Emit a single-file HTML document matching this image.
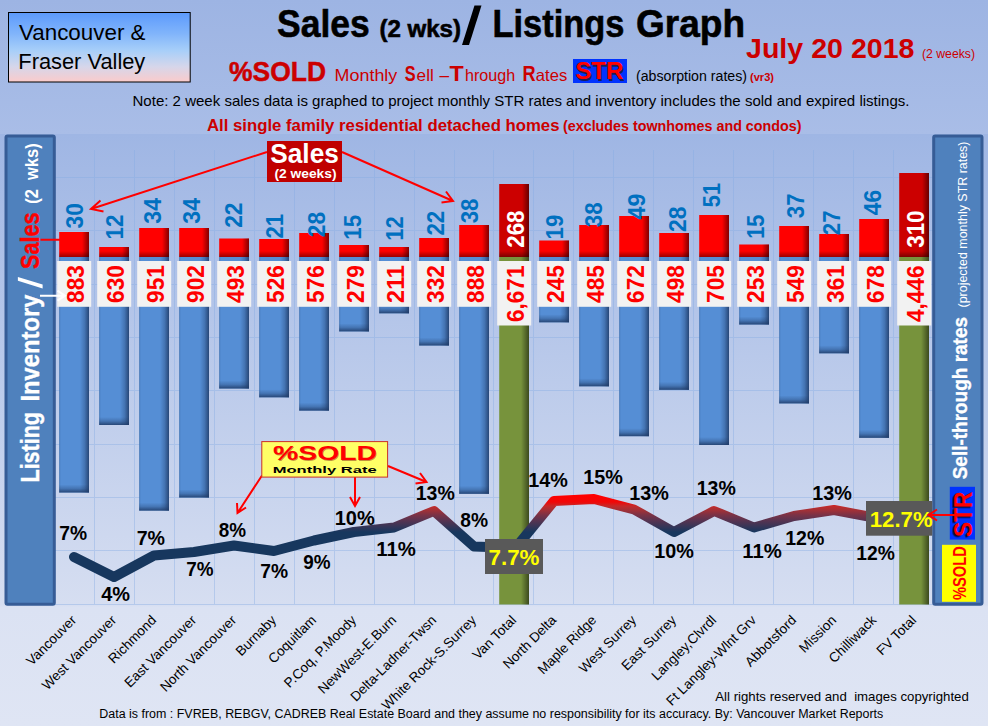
<!DOCTYPE html>
<html><head><meta charset="utf-8"><title>Sales / Listings Graph</title>
<style>
html,body{margin:0;padding:0;background:#dde4f3;}
body{width:988px;height:726px;overflow:hidden;font-family:"Liberation Sans",sans-serif;}
svg{display:block;font-family:"Liberation Sans",sans-serif;}
</style></head><body>
<svg width="988" height="726" viewBox="0 0 988 726">
<defs>
<linearGradient id="bgT" x1="0" y1="0" x2="0" y2="1"><stop offset="0" stop-color="#9db4e3"/><stop offset="1" stop-color="#a9bde7"/></linearGradient>
<linearGradient id="bg" x1="0" y1="0" x2="0" y2="1"><stop offset="0" stop-color="#9fb6e4"/><stop offset="0.795" stop-color="#d6def1"/><stop offset="0.8" stop-color="#dbe2f3"/><stop offset="1" stop-color="#dfe5f4"/></linearGradient>
<linearGradient id="vbox" x1="0" y1="0" x2="0" y2="1"><stop offset="0" stop-color="#5c9afc"/><stop offset="0.3" stop-color="#80b4fb"/><stop offset="0.55" stop-color="#a8cff9"/><stop offset="0.78" stop-color="#d6d6ea"/><stop offset="1" stop-color="#fbcbcb"/></linearGradient>
<linearGradient id="shR" x1="0" y1="0" x2="1" y2="0"><stop offset="0" stop-color="#000" stop-opacity="0"/><stop offset="1" stop-color="#000" stop-opacity="0.5"/></linearGradient>
<linearGradient id="bR" x1="0" y1="0" x2="1" y2="0"><stop offset="0" stop-color="#1f3a66" stop-opacity="0"/><stop offset="0.5" stop-color="#1f3a66" stop-opacity="0.3"/><stop offset="1" stop-color="#1f3a66" stop-opacity="0.85"/></linearGradient>
<linearGradient id="bB" x1="0" y1="0" x2="0" y2="1"><stop offset="0" stop-color="#1f3a66" stop-opacity="0"/><stop offset="0.5" stop-color="#1f3a66" stop-opacity="0.3"/><stop offset="1" stop-color="#1f3a66" stop-opacity="0.85"/></linearGradient>
<linearGradient id="shB" x1="0" y1="0" x2="0" y2="1"><stop offset="0" stop-color="#000" stop-opacity="0"/><stop offset="1" stop-color="#000" stop-opacity="0.5"/></linearGradient>
<linearGradient id="ln" gradientUnits="userSpaceOnUse" x1="0" y1="496" x2="0" y2="532"><stop offset="0" stop-color="#ff0000"/><stop offset="0.17" stop-color="#f00808"/><stop offset="0.28" stop-color="#c42a2a"/><stop offset="0.39" stop-color="#a43036"/><stop offset="0.53" stop-color="#7a3246"/><stop offset="0.67" stop-color="#5a3350"/><stop offset="1" stop-color="#17375e"/></linearGradient>
<filter id="ts" x="-20%" y="-20%" width="140%" height="140%"><feGaussianBlur stdDeviation="0.7"/></filter>
</defs>
<rect width="988" height="134" fill="url(#bgT)"/>
<rect y="134" width="988" height="592" fill="url(#bg)"/>

<g stroke="#86ace4" stroke-width="1" opacity="0.4" shape-rendering="crispEdges">
<line x1="94.5" y1="150" x2="94.5" y2="604"/>
<line x1="134.5" y1="150" x2="134.5" y2="604"/>
<line x1="174.5" y1="150" x2="174.5" y2="604"/>
<line x1="214.5" y1="150" x2="214.5" y2="604"/>
<line x1="254.5" y1="150" x2="254.5" y2="604"/>
<line x1="294.5" y1="150" x2="294.5" y2="604"/>
<line x1="334.5" y1="150" x2="334.5" y2="604"/>
<line x1="374.5" y1="150" x2="374.5" y2="604"/>
<line x1="414.5" y1="150" x2="414.5" y2="604"/>
<line x1="454.5" y1="150" x2="454.5" y2="604"/>
<line x1="493.5" y1="150" x2="493.5" y2="604"/>
<line x1="533.5" y1="150" x2="533.5" y2="604"/>
<line x1="573.5" y1="150" x2="573.5" y2="604"/>
<line x1="613.5" y1="150" x2="613.5" y2="604"/>
<line x1="653.5" y1="150" x2="653.5" y2="604"/>
<line x1="693.5" y1="150" x2="693.5" y2="604"/>
<line x1="733.5" y1="150" x2="733.5" y2="604"/>
<line x1="773.5" y1="150" x2="773.5" y2="604"/>
<line x1="813.5" y1="150" x2="813.5" y2="604"/>
<line x1="853.5" y1="150" x2="853.5" y2="604"/>
<line x1="893.5" y1="150" x2="893.5" y2="604"/>
<line x1="55" y1="177.5" x2="933" y2="177.5"/>
<line x1="55" y1="230.5" x2="933" y2="230.5"/>
<line x1="55" y1="284.5" x2="933" y2="284.5"/>
<line x1="55" y1="337.5" x2="933" y2="337.5"/>
<line x1="55" y1="390.5" x2="933" y2="390.5"/>
<line x1="55" y1="444.5" x2="933" y2="444.5"/>
<line x1="55" y1="497.5" x2="933" y2="497.5"/>
<line x1="55" y1="550.5" x2="933" y2="550.5"/>
<line x1="55" y1="604.5" x2="933" y2="604.5" />
</g>
<rect x="59.2" y="257" width="29.8" height="235.5" fill="#558ed5"/>
<rect x="80.0" y="257" width="9" height="235.5" fill="url(#bR)"/>
<rect x="59.2" y="484.5" width="29.8" height="8" fill="url(#bB)"/>
<rect x="59.2" y="257" width="1" height="235.5" fill="#1f3a66" opacity="0.25"/>
<rect x="59.2" y="232" width="29.8" height="25" fill="#ff0000"/>
<rect x="82.0" y="232" width="7" height="25" fill="url(#shR)"/>
<rect x="59.2" y="251" width="29.8" height="6" fill="url(#shB)" opacity="0.8"/>
<rect x="99.2" y="257" width="29.8" height="168.0" fill="#558ed5"/>
<rect x="120.0" y="257" width="9" height="168.0" fill="url(#bR)"/>
<rect x="99.2" y="417.0" width="29.8" height="8" fill="url(#bB)"/>
<rect x="99.2" y="257" width="1" height="168.0" fill="#1f3a66" opacity="0.25"/>
<rect x="99.2" y="247" width="29.8" height="10" fill="#ff0000"/>
<rect x="122.0" y="247" width="7" height="10" fill="url(#shR)"/>
<rect x="99.2" y="251" width="29.8" height="6" fill="url(#shB)" opacity="0.8"/>
<rect x="139.2" y="257" width="29.8" height="253.6" fill="#558ed5"/>
<rect x="160.0" y="257" width="9" height="253.6" fill="url(#bR)"/>
<rect x="139.2" y="502.6" width="29.8" height="8" fill="url(#bB)"/>
<rect x="139.2" y="257" width="1" height="253.6" fill="#1f3a66" opacity="0.25"/>
<rect x="139.2" y="228" width="29.8" height="29" fill="#ff0000"/>
<rect x="162.0" y="228" width="7" height="29" fill="url(#shR)"/>
<rect x="139.2" y="251" width="29.8" height="6" fill="url(#shB)" opacity="0.8"/>
<rect x="179.2" y="257" width="29.8" height="240.5" fill="#558ed5"/>
<rect x="200.0" y="257" width="9" height="240.5" fill="url(#bR)"/>
<rect x="179.2" y="489.5" width="29.8" height="8" fill="url(#bB)"/>
<rect x="179.2" y="257" width="1" height="240.5" fill="#1f3a66" opacity="0.25"/>
<rect x="179.2" y="228" width="29.8" height="29" fill="#ff0000"/>
<rect x="202.0" y="228" width="7" height="29" fill="url(#shR)"/>
<rect x="179.2" y="251" width="29.8" height="6" fill="url(#shB)" opacity="0.8"/>
<rect x="219.2" y="257" width="29.8" height="131.5" fill="#558ed5"/>
<rect x="240.0" y="257" width="9" height="131.5" fill="url(#bR)"/>
<rect x="219.2" y="380.5" width="29.8" height="8" fill="url(#bB)"/>
<rect x="219.2" y="257" width="1" height="131.5" fill="#1f3a66" opacity="0.25"/>
<rect x="219.2" y="238.5" width="29.8" height="18.5" fill="#ff0000"/>
<rect x="242.0" y="238.5" width="7" height="18.5" fill="url(#shR)"/>
<rect x="219.2" y="251" width="29.8" height="6" fill="url(#shB)" opacity="0.8"/>
<rect x="259.2" y="257" width="29.8" height="140.3" fill="#558ed5"/>
<rect x="280.0" y="257" width="9" height="140.3" fill="url(#bR)"/>
<rect x="259.2" y="389.3" width="29.8" height="8" fill="url(#bB)"/>
<rect x="259.2" y="257" width="1" height="140.3" fill="#1f3a66" opacity="0.25"/>
<rect x="259.2" y="239" width="29.8" height="18" fill="#ff0000"/>
<rect x="282.0" y="239" width="7" height="18" fill="url(#shR)"/>
<rect x="259.2" y="251" width="29.8" height="6" fill="url(#shB)" opacity="0.8"/>
<rect x="299.2" y="257" width="29.8" height="153.6" fill="#558ed5"/>
<rect x="320.0" y="257" width="9" height="153.6" fill="url(#bR)"/>
<rect x="299.2" y="402.6" width="29.8" height="8" fill="url(#bB)"/>
<rect x="299.2" y="257" width="1" height="153.6" fill="#1f3a66" opacity="0.25"/>
<rect x="299.2" y="233" width="29.8" height="24" fill="#ff0000"/>
<rect x="322.0" y="233" width="7" height="24" fill="url(#shR)"/>
<rect x="299.2" y="251" width="29.8" height="6" fill="url(#shB)" opacity="0.8"/>
<rect x="339.2" y="257" width="29.8" height="74.4" fill="#558ed5"/>
<rect x="360.0" y="257" width="9" height="74.4" fill="url(#bR)"/>
<rect x="339.2" y="323.4" width="29.8" height="8" fill="url(#bB)"/>
<rect x="339.2" y="257" width="1" height="74.4" fill="#1f3a66" opacity="0.25"/>
<rect x="339.2" y="245" width="29.8" height="12" fill="#ff0000"/>
<rect x="362.0" y="245" width="7" height="12" fill="url(#shR)"/>
<rect x="339.2" y="251" width="29.8" height="6" fill="url(#shB)" opacity="0.8"/>
<rect x="379.2" y="257" width="29.8" height="56.3" fill="#558ed5"/>
<rect x="400.0" y="257" width="9" height="56.3" fill="url(#bR)"/>
<rect x="379.2" y="305.3" width="29.8" height="8" fill="url(#bB)"/>
<rect x="379.2" y="257" width="1" height="56.3" fill="#1f3a66" opacity="0.25"/>
<rect x="379.2" y="247" width="29.8" height="10" fill="#ff0000"/>
<rect x="402.0" y="247" width="7" height="10" fill="url(#shR)"/>
<rect x="379.2" y="251" width="29.8" height="6" fill="url(#shB)" opacity="0.8"/>
<rect x="419.2" y="257" width="29.8" height="88.5" fill="#558ed5"/>
<rect x="440.0" y="257" width="9" height="88.5" fill="url(#bR)"/>
<rect x="419.2" y="337.5" width="29.8" height="8" fill="url(#bB)"/>
<rect x="419.2" y="257" width="1" height="88.5" fill="#1f3a66" opacity="0.25"/>
<rect x="419.2" y="238" width="29.8" height="19" fill="#ff0000"/>
<rect x="442.0" y="238" width="7" height="19" fill="url(#shR)"/>
<rect x="419.2" y="251" width="29.8" height="6" fill="url(#shB)" opacity="0.8"/>
<rect x="459.2" y="257" width="29.8" height="236.8" fill="#558ed5"/>
<rect x="480.0" y="257" width="9" height="236.8" fill="url(#bR)"/>
<rect x="459.2" y="485.8" width="29.8" height="8" fill="url(#bB)"/>
<rect x="459.2" y="257" width="1" height="236.8" fill="#1f3a66" opacity="0.25"/>
<rect x="459.2" y="225" width="29.8" height="32" fill="#ff0000"/>
<rect x="482.0" y="225" width="7" height="32" fill="url(#shR)"/>
<rect x="459.2" y="251" width="29.8" height="6" fill="url(#shB)" opacity="0.8"/>
<rect x="499.2" y="257" width="29.8" height="347.5" fill="#77933c"/>
<rect x="521.0" y="257" width="8" height="347.5" fill="url(#shR)"/>
<rect x="499.2" y="184" width="29.8" height="73" fill="#cc0000"/>
<rect x="522.0" y="184" width="7" height="73" fill="url(#shR)"/>
<rect x="499.2" y="251" width="29.8" height="6" fill="url(#shB)" opacity="0.8"/>
<rect x="539.2" y="257" width="29.8" height="65.3" fill="#558ed5"/>
<rect x="560.0" y="257" width="9" height="65.3" fill="url(#bR)"/>
<rect x="539.2" y="314.3" width="29.8" height="8" fill="url(#bB)"/>
<rect x="539.2" y="257" width="1" height="65.3" fill="#1f3a66" opacity="0.25"/>
<rect x="539.2" y="240.5" width="29.8" height="16.5" fill="#ff0000"/>
<rect x="562.0" y="240.5" width="7" height="16.5" fill="url(#shR)"/>
<rect x="539.2" y="251" width="29.8" height="6" fill="url(#shB)" opacity="0.8"/>
<rect x="579.2" y="257" width="29.8" height="129.3" fill="#558ed5"/>
<rect x="600.0" y="257" width="9" height="129.3" fill="url(#bR)"/>
<rect x="579.2" y="378.3" width="29.8" height="8" fill="url(#bB)"/>
<rect x="579.2" y="257" width="1" height="129.3" fill="#1f3a66" opacity="0.25"/>
<rect x="579.2" y="225" width="29.8" height="32" fill="#ff0000"/>
<rect x="602.0" y="225" width="7" height="32" fill="url(#shR)"/>
<rect x="579.2" y="251" width="29.8" height="6" fill="url(#shB)" opacity="0.8"/>
<rect x="619.2" y="257" width="29.8" height="179.2" fill="#558ed5"/>
<rect x="640.0" y="257" width="9" height="179.2" fill="url(#bR)"/>
<rect x="619.2" y="428.2" width="29.8" height="8" fill="url(#bB)"/>
<rect x="619.2" y="257" width="1" height="179.2" fill="#1f3a66" opacity="0.25"/>
<rect x="619.2" y="216" width="29.8" height="41" fill="#ff0000"/>
<rect x="642.0" y="216" width="7" height="41" fill="url(#shR)"/>
<rect x="619.2" y="251" width="29.8" height="6" fill="url(#shB)" opacity="0.8"/>
<rect x="659.2" y="257" width="29.8" height="132.8" fill="#558ed5"/>
<rect x="680.0" y="257" width="9" height="132.8" fill="url(#bR)"/>
<rect x="659.2" y="381.8" width="29.8" height="8" fill="url(#bB)"/>
<rect x="659.2" y="257" width="1" height="132.8" fill="#1f3a66" opacity="0.25"/>
<rect x="659.2" y="233" width="29.8" height="24" fill="#ff0000"/>
<rect x="682.0" y="233" width="7" height="24" fill="url(#shR)"/>
<rect x="659.2" y="251" width="29.8" height="6" fill="url(#shB)" opacity="0.8"/>
<rect x="699.2" y="257" width="29.8" height="188.0" fill="#558ed5"/>
<rect x="720.0" y="257" width="9" height="188.0" fill="url(#bR)"/>
<rect x="699.2" y="437.0" width="29.8" height="8" fill="url(#bB)"/>
<rect x="699.2" y="257" width="1" height="188.0" fill="#1f3a66" opacity="0.25"/>
<rect x="699.2" y="215" width="29.8" height="42" fill="#ff0000"/>
<rect x="722.0" y="215" width="7" height="42" fill="url(#shR)"/>
<rect x="699.2" y="251" width="29.8" height="6" fill="url(#shB)" opacity="0.8"/>
<rect x="739.2" y="257" width="29.8" height="67.5" fill="#558ed5"/>
<rect x="760.0" y="257" width="9" height="67.5" fill="url(#bR)"/>
<rect x="739.2" y="316.5" width="29.8" height="8" fill="url(#bB)"/>
<rect x="739.2" y="257" width="1" height="67.5" fill="#1f3a66" opacity="0.25"/>
<rect x="739.2" y="244.5" width="29.8" height="12.5" fill="#ff0000"/>
<rect x="762.0" y="244.5" width="7" height="12.5" fill="url(#shR)"/>
<rect x="739.2" y="251" width="29.8" height="6" fill="url(#shB)" opacity="0.8"/>
<rect x="779.2" y="257" width="29.8" height="146.4" fill="#558ed5"/>
<rect x="800.0" y="257" width="9" height="146.4" fill="url(#bR)"/>
<rect x="779.2" y="395.4" width="29.8" height="8" fill="url(#bB)"/>
<rect x="779.2" y="257" width="1" height="146.4" fill="#1f3a66" opacity="0.25"/>
<rect x="779.2" y="226" width="29.8" height="31" fill="#ff0000"/>
<rect x="802.0" y="226" width="7" height="31" fill="url(#shR)"/>
<rect x="779.2" y="251" width="29.8" height="6" fill="url(#shB)" opacity="0.8"/>
<rect x="819.2" y="257" width="29.8" height="96.3" fill="#558ed5"/>
<rect x="840.0" y="257" width="9" height="96.3" fill="url(#bR)"/>
<rect x="819.2" y="345.3" width="29.8" height="8" fill="url(#bB)"/>
<rect x="819.2" y="257" width="1" height="96.3" fill="#1f3a66" opacity="0.25"/>
<rect x="819.2" y="234" width="29.8" height="23" fill="#ff0000"/>
<rect x="842.0" y="234" width="7" height="23" fill="url(#shR)"/>
<rect x="819.2" y="251" width="29.8" height="6" fill="url(#shB)" opacity="0.8"/>
<rect x="859.2" y="257" width="29.8" height="180.8" fill="#558ed5"/>
<rect x="880.0" y="257" width="9" height="180.8" fill="url(#bR)"/>
<rect x="859.2" y="429.8" width="29.8" height="8" fill="url(#bB)"/>
<rect x="859.2" y="257" width="1" height="180.8" fill="#1f3a66" opacity="0.25"/>
<rect x="859.2" y="219" width="29.8" height="38" fill="#ff0000"/>
<rect x="882.0" y="219" width="7" height="38" fill="url(#shR)"/>
<rect x="859.2" y="251" width="29.8" height="6" fill="url(#shB)" opacity="0.8"/>
<rect x="899.2" y="257" width="29.8" height="347.5" fill="#77933c"/>
<rect x="921.0" y="257" width="8" height="347.5" fill="url(#shR)"/>
<rect x="899.2" y="173" width="29.8" height="84" fill="#cc0000"/>
<rect x="922.0" y="173" width="7" height="84" fill="url(#shR)"/>
<rect x="899.2" y="251" width="29.8" height="6" fill="url(#shB)" opacity="0.8"/>
<path d="M74,557 L114,577 L154,555.5 L194,552 L234,545.5 L274,551 L314,540.5 L354,532 L394,527.5 L434,511 L474,546.5 L515.5,548 L554,501 L594,499 L634,509.5 L674,532 L714,511 L754,527.5 L794,516 L834,510 L874,517.5 L914,516" fill="none" stroke="url(#ln)" stroke-width="10" stroke-linecap="round" stroke-linejoin="round"/>
<rect x="57.2" y="261" width="34" height="45.8" fill="#f2f2f2"/>
<text transform="translate(83.7,302.9) rotate(-90)" font-size="24" font-weight="bold" fill="#ff0000" textLength="37.8" lengthAdjust="spacingAndGlyphs">883</text>
<text transform="translate(82.9,228.4) rotate(-90)" font-size="23" font-weight="bold" fill="#0070c0" textLength="25.3" lengthAdjust="spacingAndGlyphs">30</text>
<rect x="97.2" y="261" width="34" height="45.8" fill="#f2f2f2"/>
<text transform="translate(123.7,302.9) rotate(-90)" font-size="24" font-weight="bold" fill="#ff0000" textLength="37.8" lengthAdjust="spacingAndGlyphs">630</text>
<text transform="translate(123.4,239.5) rotate(-90)" font-size="23" font-weight="bold" fill="#0070c0" textLength="24.9" lengthAdjust="spacingAndGlyphs">12</text>
<rect x="137.2" y="261" width="34" height="45.8" fill="#f2f2f2"/>
<text transform="translate(163.7,302.9) rotate(-90)" font-size="24" font-weight="bold" fill="#ff0000" textLength="37.8" lengthAdjust="spacingAndGlyphs">951</text>
<text transform="translate(161.3,223.7) rotate(-90)" font-size="23" font-weight="bold" fill="#0070c0" textLength="25.7" lengthAdjust="spacingAndGlyphs">34</text>
<rect x="177.2" y="261" width="34" height="45.8" fill="#f2f2f2"/>
<text transform="translate(203.7,302.9) rotate(-90)" font-size="24" font-weight="bold" fill="#ff0000" textLength="37.8" lengthAdjust="spacingAndGlyphs">902</text>
<text transform="translate(200.2,223.7) rotate(-90)" font-size="23" font-weight="bold" fill="#0070c0" textLength="25.7" lengthAdjust="spacingAndGlyphs">34</text>
<rect x="217.2" y="261" width="34" height="45.8" fill="#f2f2f2"/>
<text transform="translate(243.7,302.9) rotate(-90)" font-size="24" font-weight="bold" fill="#ff0000" textLength="37.8" lengthAdjust="spacingAndGlyphs">493</text>
<text transform="translate(242.3,227.8) rotate(-90)" font-size="23" font-weight="bold" fill="#0070c0" textLength="25.3" lengthAdjust="spacingAndGlyphs">22</text>
<rect x="257.2" y="261" width="34" height="45.8" fill="#f2f2f2"/>
<text transform="translate(283.7,302.9) rotate(-90)" font-size="24" font-weight="bold" fill="#ff0000" textLength="37.8" lengthAdjust="spacingAndGlyphs">526</text>
<text transform="translate(282.7,238.4) rotate(-90)" font-size="23" font-weight="bold" fill="#0070c0" textLength="24.5" lengthAdjust="spacingAndGlyphs">21</text>
<rect x="297.2" y="261" width="34" height="45.8" fill="#f2f2f2"/>
<text transform="translate(323.7,302.9) rotate(-90)" font-size="24" font-weight="bold" fill="#ff0000" textLength="37.8" lengthAdjust="spacingAndGlyphs">576</text>
<text transform="translate(324.9,237.2) rotate(-90)" font-size="23" font-weight="bold" fill="#0070c0" textLength="25.2" lengthAdjust="spacingAndGlyphs">28</text>
<rect x="337.2" y="261" width="34" height="45.8" fill="#f2f2f2"/>
<text transform="translate(363.7,302.9) rotate(-90)" font-size="24" font-weight="bold" fill="#ff0000" textLength="37.8" lengthAdjust="spacingAndGlyphs">279</text>
<text transform="translate(360.9,239.8) rotate(-90)" font-size="23" font-weight="bold" fill="#0070c0" textLength="24.9" lengthAdjust="spacingAndGlyphs">15</text>
<rect x="377.2" y="261" width="34" height="45.8" fill="#f2f2f2"/>
<text transform="translate(403.7,302.9) rotate(-90)" font-size="24" font-weight="bold" fill="#ff0000" textLength="37.8" lengthAdjust="spacingAndGlyphs">211</text>
<text transform="translate(403.4,240.8) rotate(-90)" font-size="23" font-weight="bold" fill="#0070c0" textLength="24.4" lengthAdjust="spacingAndGlyphs">12</text>
<rect x="417.2" y="261" width="34" height="45.8" fill="#f2f2f2"/>
<text transform="translate(443.7,302.9) rotate(-90)" font-size="24" font-weight="bold" fill="#ff0000" textLength="37.8" lengthAdjust="spacingAndGlyphs">332</text>
<text transform="translate(443.5,235.5) rotate(-90)" font-size="23" font-weight="bold" fill="#0070c0" textLength="24.7" lengthAdjust="spacingAndGlyphs">22</text>
<rect x="457.2" y="261" width="34" height="45.8" fill="#f2f2f2"/>
<text transform="translate(483.7,302.9) rotate(-90)" font-size="24" font-weight="bold" fill="#ff0000" textLength="37.8" lengthAdjust="spacingAndGlyphs">888</text>
<text transform="translate(478.0,223.3) rotate(-90)" font-size="23" font-weight="bold" fill="#0070c0" textLength="24.7" lengthAdjust="spacingAndGlyphs">38</text>
<rect x="497.2" y="261" width="34" height="64.5" fill="#f2f2f2"/>
<text transform="translate(523.7,322.1) rotate(-90)" font-size="24" font-weight="bold" fill="#ff0000" textLength="56.6" lengthAdjust="spacingAndGlyphs">6,671</text>
<text transform="translate(523.6,247.8) rotate(-90)" font-size="24" font-weight="bold" fill="#ffffff" textLength="37.3" lengthAdjust="spacingAndGlyphs">268</text>
<rect x="537.2" y="261" width="34" height="45.8" fill="#f2f2f2"/>
<text transform="translate(563.7,302.9) rotate(-90)" font-size="24" font-weight="bold" fill="#ff0000" textLength="37.8" lengthAdjust="spacingAndGlyphs">245</text>
<text transform="translate(563.2,239.5) rotate(-90)" font-size="23" font-weight="bold" fill="#0070c0" textLength="24.9" lengthAdjust="spacingAndGlyphs">19</text>
<rect x="577.2" y="261" width="34" height="45.8" fill="#f2f2f2"/>
<text transform="translate(603.7,302.9) rotate(-90)" font-size="24" font-weight="bold" fill="#ff0000" textLength="37.8" lengthAdjust="spacingAndGlyphs">485</text>
<text transform="translate(602.1,227.2) rotate(-90)" font-size="23" font-weight="bold" fill="#0070c0" textLength="24.7" lengthAdjust="spacingAndGlyphs">38</text>
<rect x="617.2" y="261" width="34" height="45.8" fill="#f2f2f2"/>
<text transform="translate(643.7,302.9) rotate(-90)" font-size="24" font-weight="bold" fill="#ff0000" textLength="37.8" lengthAdjust="spacingAndGlyphs">672</text>
<text transform="translate(645.1,219.4) rotate(-90)" font-size="23" font-weight="bold" fill="#0070c0" textLength="25.9" lengthAdjust="spacingAndGlyphs">49</text>
<rect x="657.2" y="261" width="34" height="45.8" fill="#f2f2f2"/>
<text transform="translate(683.7,302.9) rotate(-90)" font-size="24" font-weight="bold" fill="#ff0000" textLength="37.8" lengthAdjust="spacingAndGlyphs">498</text>
<text transform="translate(686.4,232.0) rotate(-90)" font-size="23" font-weight="bold" fill="#0070c0" textLength="25.6" lengthAdjust="spacingAndGlyphs">28</text>
<rect x="697.2" y="261" width="34" height="45.8" fill="#f2f2f2"/>
<text transform="translate(723.7,302.9) rotate(-90)" font-size="24" font-weight="bold" fill="#ff0000" textLength="37.8" lengthAdjust="spacingAndGlyphs">705</text>
<text transform="translate(720.4,207.2) rotate(-90)" font-size="23" font-weight="bold" fill="#0070c0" textLength="24.2" lengthAdjust="spacingAndGlyphs">51</text>
<rect x="737.2" y="261" width="34" height="45.8" fill="#f2f2f2"/>
<text transform="translate(763.7,302.9) rotate(-90)" font-size="24" font-weight="bold" fill="#ff0000" textLength="37.8" lengthAdjust="spacingAndGlyphs">253</text>
<text transform="translate(763.6,238.8) rotate(-90)" font-size="23" font-weight="bold" fill="#0070c0" textLength="24.2" lengthAdjust="spacingAndGlyphs">15</text>
<rect x="777.2" y="261" width="34" height="45.8" fill="#f2f2f2"/>
<text transform="translate(803.7,302.9) rotate(-90)" font-size="24" font-weight="bold" fill="#ff0000" textLength="37.8" lengthAdjust="spacingAndGlyphs">549</text>
<text transform="translate(803.7,218.2) rotate(-90)" font-size="23" font-weight="bold" fill="#0070c0" textLength="24.7" lengthAdjust="spacingAndGlyphs">37</text>
<rect x="817.2" y="261" width="34" height="45.8" fill="#f2f2f2"/>
<text transform="translate(843.7,302.9) rotate(-90)" font-size="24" font-weight="bold" fill="#ff0000" textLength="37.8" lengthAdjust="spacingAndGlyphs">361</text>
<text transform="translate(839.7,235.2) rotate(-90)" font-size="23" font-weight="bold" fill="#0070c0" textLength="24.7" lengthAdjust="spacingAndGlyphs">27</text>
<rect x="857.2" y="261" width="34" height="45.8" fill="#f2f2f2"/>
<text transform="translate(883.7,302.9) rotate(-90)" font-size="24" font-weight="bold" fill="#ff0000" textLength="37.8" lengthAdjust="spacingAndGlyphs">678</text>
<text transform="translate(881.0,215.2) rotate(-90)" font-size="23" font-weight="bold" fill="#0070c0" textLength="25.4" lengthAdjust="spacingAndGlyphs">46</text>
<rect x="897.2" y="261" width="34" height="64.5" fill="#f2f2f2"/>
<text transform="translate(923.7,322.1) rotate(-90)" font-size="24" font-weight="bold" fill="#ff0000" textLength="56.6" lengthAdjust="spacingAndGlyphs">4,446</text>
<text transform="translate(923.5,247.8) rotate(-90)" font-size="24" font-weight="bold" fill="#ffffff" textLength="37.3" lengthAdjust="spacingAndGlyphs">310</text>
<text x="59.2" y="540.3" font-size="20" font-weight="bold" fill="#000" textLength="27.8" lengthAdjust="spacingAndGlyphs">7%</text>
<text x="101.2" y="600.8" font-size="20" font-weight="bold" fill="#000" textLength="28.8" lengthAdjust="spacingAndGlyphs">4%</text>
<text x="136.7" y="544.8" font-size="20" font-weight="bold" fill="#000" textLength="28.3" lengthAdjust="spacingAndGlyphs">7%</text>
<text x="186.2" y="576.3" font-size="20" font-weight="bold" fill="#000" textLength="27.3" lengthAdjust="spacingAndGlyphs">7%</text>
<text x="218.7" y="536.8" font-size="20" font-weight="bold" fill="#000" textLength="27.3" lengthAdjust="spacingAndGlyphs">8%</text>
<text x="260.2" y="578.3" font-size="20" font-weight="bold" fill="#000" textLength="27.8" lengthAdjust="spacingAndGlyphs">7%</text>
<text x="303.2" y="568.8" font-size="20" font-weight="bold" fill="#000" textLength="27.3" lengthAdjust="spacingAndGlyphs">9%</text>
<text x="334.7" y="524.8" font-size="20" font-weight="bold" fill="#000" textLength="40.1" lengthAdjust="spacingAndGlyphs">10%</text>
<text x="376.2" y="555.8" font-size="20" font-weight="bold" fill="#000" textLength="39.6" lengthAdjust="spacingAndGlyphs">11%</text>
<text x="415.7" y="499.8" font-size="20" font-weight="bold" fill="#000" textLength="39.1" lengthAdjust="spacingAndGlyphs">13%</text>
<text x="460.2" y="527.3" font-size="20" font-weight="bold" fill="#000" textLength="27.8" lengthAdjust="spacingAndGlyphs">8%</text>
<text x="528.2" y="486.8" font-size="20" font-weight="bold" fill="#000" textLength="39.6" lengthAdjust="spacingAndGlyphs">14%</text>
<text x="583.2" y="483.8" font-size="20" font-weight="bold" fill="#000" textLength="39.6" lengthAdjust="spacingAndGlyphs">15%</text>
<text x="629.2" y="499.8" font-size="20" font-weight="bold" fill="#000" textLength="39.6" lengthAdjust="spacingAndGlyphs">13%</text>
<text x="654.2" y="557.8" font-size="20" font-weight="bold" fill="#000" textLength="39.6" lengthAdjust="spacingAndGlyphs">10%</text>
<text x="696.7" y="494.8" font-size="20" font-weight="bold" fill="#000" textLength="39.1" lengthAdjust="spacingAndGlyphs">13%</text>
<text x="742.2" y="557.8" font-size="20" font-weight="bold" fill="#000" textLength="39.6" lengthAdjust="spacingAndGlyphs">11%</text>
<text x="785.2" y="544.8" font-size="20" font-weight="bold" fill="#000" textLength="39.1" lengthAdjust="spacingAndGlyphs">12%</text>
<text x="812.2" y="500.3" font-size="20" font-weight="bold" fill="#000" textLength="39.6" lengthAdjust="spacingAndGlyphs">13%</text>
<text x="856.2" y="560.3" font-size="20" font-weight="bold" fill="#000" textLength="38.6" lengthAdjust="spacingAndGlyphs">12%</text>
<text transform="translate(77.1,621) rotate(-45)" text-anchor="end" font-size="13.6" fill="#000">Vancouver</text>
<text transform="translate(117.1,621) rotate(-45)" text-anchor="end" font-size="13.6" fill="#000">West Vancouver</text>
<text transform="translate(157.1,621) rotate(-45)" text-anchor="end" font-size="13.6" fill="#000">Richmond</text>
<text transform="translate(197.1,621) rotate(-45)" text-anchor="end" font-size="13.6" fill="#000">East Vancouver</text>
<text transform="translate(237.1,621) rotate(-45)" text-anchor="end" font-size="13.6" fill="#000">North Vancouver</text>
<text transform="translate(277.1,621) rotate(-45)" text-anchor="end" font-size="13.6" fill="#000">Burnaby</text>
<text transform="translate(317.1,621) rotate(-45)" text-anchor="end" font-size="13.6" fill="#000">Coquitlam</text>
<text transform="translate(357.1,621) rotate(-45)" text-anchor="end" font-size="13.6" fill="#000">P.Coq, P.Moody</text>
<text transform="translate(397.1,621) rotate(-45)" text-anchor="end" font-size="13.6" fill="#000">NewWest-E.Burn</text>
<text transform="translate(437.1,621) rotate(-45)" text-anchor="end" font-size="13.6" fill="#000">Delta-Ladner-Twsn</text>
<text transform="translate(477.1,621) rotate(-45)" text-anchor="end" font-size="13.6" fill="#000">White Rock-S.Surrey</text>
<text transform="translate(517.1,621) rotate(-45)" text-anchor="end" font-size="13.6" fill="#000">Van Total</text>
<text transform="translate(557.1,621) rotate(-45)" text-anchor="end" font-size="13.6" fill="#000">North Delta</text>
<text transform="translate(597.1,621) rotate(-45)" text-anchor="end" font-size="13.6" fill="#000">Maple Ridge</text>
<text transform="translate(637.1,621) rotate(-45)" text-anchor="end" font-size="13.6" fill="#000">West Surrey</text>
<text transform="translate(677.1,621) rotate(-45)" text-anchor="end" font-size="13.6" fill="#000">East Surrey</text>
<text transform="translate(717.1,621) rotate(-45)" text-anchor="end" font-size="13.6" fill="#000">Langley,Clvrdl</text>
<text transform="translate(757.1,621) rotate(-45)" text-anchor="end" font-size="13.6" fill="#000">Ft Langley-Wlnt Grv</text>
<text transform="translate(797.1,621) rotate(-45)" text-anchor="end" font-size="13.6" fill="#000">Abbotsford</text>
<text transform="translate(837.1,621) rotate(-45)" text-anchor="end" font-size="13.6" fill="#000">Mission</text>
<text transform="translate(877.1,621) rotate(-45)" text-anchor="end" font-size="13.6" fill="#000">Chilliwack</text>
<text transform="translate(917.1,621) rotate(-45)" text-anchor="end" font-size="13.6" fill="#000">FV Total</text><rect x="6" y="136" width="48.3" height="468.2" rx="1.5" fill="#4f81bd" stroke="#365c96" stroke-width="3"/>
<rect x="933.7" y="136" width="48.3" height="468.2" rx="1.5" fill="#4f81bd" stroke="#365c96" stroke-width="3"/>
<text transform="translate(39,482.5) rotate(-90)" font-size="26" fill="#fff" font-weight="bold" textLength="70.5" lengthAdjust="spacingAndGlyphs" stroke="#fff" stroke-width="0.4">Listing</text>
<text transform="translate(39,401.5) rotate(-90)" font-size="26" fill="#fff" font-weight="bold" textLength="107" lengthAdjust="spacingAndGlyphs" stroke="#fff" stroke-width="0.4">Inventory</text>
<polygon points="17.9,276.9 17.9,280.7 42.6,288.4 42.6,284.6" fill="#fff"/>
<text transform="translate(39,269) rotate(-90)" font-size="25" fill="#ff0000" font-weight="bold" textLength="56.6" lengthAdjust="spacingAndGlyphs" stroke="#ff0000" stroke-width="0.4">Sales</text>
<text transform="translate(38.3,203.8) rotate(-90)" font-size="18" fill="#fff" font-weight="bold" textLength="60.5" lengthAdjust="spacingAndGlyphs" >(2&#160; wks)</text>
<text transform="translate(967,479.3) rotate(-90)" font-size="20.5" fill="#fff" font-weight="bold" textLength="162.3" lengthAdjust="spacingAndGlyphs" stroke="#fff" stroke-width="0.35">Sell-through rates</text>
<text transform="translate(967,307.5) rotate(-90)" font-size="12.5" fill="#fff" textLength="166" lengthAdjust="spacingAndGlyphs" >(projected monthly STR rates)</text>
<rect x="949.8" y="486.8" width="25.2" height="52.8" fill="#0033ff"/>
<text transform="translate(970.4,538.4) rotate(-90)" font-size="25" fill="#0c0c30" font-weight="bold" textLength="45.5" lengthAdjust="spacingAndGlyphs" filter="url(#ts)">STR</text>
<text transform="translate(971.9,537) rotate(-90)" font-size="25" fill="#ff0000" font-weight="bold" textLength="45.5" lengthAdjust="spacingAndGlyphs" >STR</text>
<rect x="942" y="544.8" width="34" height="57" fill="#ffff00"/>
<text transform="translate(965.6,600) rotate(-90)" font-size="18.7" fill="#ff0000" font-weight="bold" textLength="53.8" lengthAdjust="spacingAndGlyphs" >%SOLD</text>
<g stroke="#ff0000" stroke-width="2" fill="none"><path d="M40.5,239.7 L67,239.7 M62,236.5 L67,240 L62,243.5"/></g>
<g stroke="#ffffff" stroke-width="2" fill="none"><path d="M40,295.7 L65,295.7 M57.5,290.7 L65,295.7 L57.5,300.7"/></g>
<rect x="8.5" y="12.5" width="181.7" height="69.5" fill="url(#vbox)" stroke="#000" stroke-width="1"/>
<text x="19" y="39.7" font-size="22" fill="#000" textLength="126.5" lengthAdjust="spacingAndGlyphs" >Vancouver &amp;</text>
<text x="18.3" y="69.2" font-size="22" fill="#000" textLength="127" lengthAdjust="spacingAndGlyphs" >Fraser Valley</text>
<text x="277" y="36.7" font-size="39" fill="#000" font-weight="bold" textLength="92.7" lengthAdjust="spacingAndGlyphs" stroke="#000" stroke-width="0.6">Sales</text>
<text x="379.5" y="36.7" font-size="24" fill="#000" font-weight="bold" textLength="81.5" lengthAdjust="spacingAndGlyphs" stroke="#000" stroke-width="0.6">(2 wks)</text>
<polygon points="462,45 469,45 481.5,5.5 474.5,5.5" fill="#000"/>
<text x="492.5" y="36.7" font-size="39" fill="#000" font-weight="bold" textLength="132" lengthAdjust="spacingAndGlyphs" stroke="#000" stroke-width="0.6">Listings</text>
<text x="636" y="36.7" font-size="39" fill="#000" font-weight="bold" textLength="109" lengthAdjust="spacingAndGlyphs" stroke="#000" stroke-width="0.6">Graph</text>
<text x="746" y="58.2" font-size="27" fill="#cc0000" font-weight="bold" textLength="168.5" lengthAdjust="spacingAndGlyphs" >July 20 2018</text>
<text x="922" y="58" font-size="12.5" fill="#cc0000" textLength="53" lengthAdjust="spacingAndGlyphs" >(2 weeks)</text>
<text x="229" y="80.5" font-size="28" fill="#cc0000" font-weight="bold" textLength="97" lengthAdjust="spacingAndGlyphs" stroke="#cc0000" stroke-width="0.5">%SOLD</text>
<text x="334.6" y="80.5" font-size="16.5" fill="#cc0000" textLength="62.7" lengthAdjust="spacingAndGlyphs" >Monthly</text>
<text x="404.7" y="80.5" font-size="22.5" fill="#cc0000" font-weight="bold" textLength="10.9" lengthAdjust="spacingAndGlyphs" >S</text>
<text x="416.6" y="80.5" font-size="16.5" fill="#cc0000" textLength="17.2" lengthAdjust="spacingAndGlyphs" >ell</text>
<text x="439.4" y="80.5" font-size="16.5" fill="#cc0000" textLength="9.6" lengthAdjust="spacingAndGlyphs" >–</text>
<text x="449.5" y="80.5" font-size="22.5" fill="#cc0000" font-weight="bold" textLength="14.2" lengthAdjust="spacingAndGlyphs" >T</text>
<text x="465" y="80.5" font-size="16.5" fill="#cc0000" textLength="50.3" lengthAdjust="spacingAndGlyphs" >hrough</text>
<text x="522.4" y="80.5" font-size="22.5" fill="#cc0000" font-weight="bold" textLength="13.1" lengthAdjust="spacingAndGlyphs" >R</text>
<text x="535.8" y="80.5" font-size="16.5" fill="#cc0000" textLength="31.4" lengthAdjust="spacingAndGlyphs" >ates</text>
<rect x="573" y="59" width="54" height="24" fill="#0033ff"/>
<text x="576.5" y="80.5" font-size="24" fill="#1a1a40" font-weight="bold" textLength="48" lengthAdjust="spacingAndGlyphs" filter="url(#ts)" opacity="0.9">STR</text>
<text x="575.3" y="79.3" font-size="24" fill="#ff0000" font-weight="bold" textLength="48" lengthAdjust="spacingAndGlyphs" >STR</text>
<text x="636" y="80.5" font-size="14" fill="#000" textLength="111" lengthAdjust="spacingAndGlyphs" >(absorption rates)</text>
<text x="750" y="81" font-size="10.5" fill="#cc0000" font-weight="bold" textLength="24" lengthAdjust="spacingAndGlyphs" >(vr3)</text>
<text x="132.5" y="106.2" font-size="14.5" fill="#000" textLength="777" lengthAdjust="spacingAndGlyphs" >Note: 2 week sales data is graphed to project monthly STR rates and inventory includes the sold and expired listings.</text>
<text x="207" y="130.5" font-size="16.4" fill="#cc0000" font-weight="bold" textLength="352.5" lengthAdjust="spacingAndGlyphs" >All single family residential detached homes</text>
<text x="563" y="130.5" font-size="14.6" fill="#cc0000" font-weight="bold" textLength="238.5" lengthAdjust="spacingAndGlyphs" >(excludes townhomes and condos)</text>
<g stroke="#ff0000" stroke-width="2" fill="none"><path d="M267,152 L91,209 M100.5,200.5 L91,209 L103.5,211.5"/><path d="M342,152 L453,201 M441.5,202.5 L453,201 L446,191.5"/></g>
<rect x="267" y="141" width="75" height="41" fill="#c00000"/>
<text x="270.3" y="162.8" font-size="27.5" fill="#fff" font-weight="bold" textLength="68.5" lengthAdjust="spacingAndGlyphs" >Sales</text>
<text x="274.5" y="177.5" font-size="12" fill="#fff" font-weight="bold" textLength="62" lengthAdjust="spacingAndGlyphs" >(2 weeks)</text>
<g stroke="#ff0000" stroke-width="2" fill="none"><path d="M262,475.5 L237.5,513 M237,503 L237.5,513 L246,507.5"/><path d="M355,477 L355,506 M350,497 L355,506 L360,497"/><path d="M388,466 L426.5,482 M415.5,483.5 L426.5,482 L420,473"/></g>
<rect x="261.8" y="441.6" width="125.8" height="35.5" fill="#ffff66" stroke="#c8302a" stroke-width="1"/>
<text x="273.8" y="460.8" font-size="19.5" fill="#7f1010" font-weight="bold" textLength="104" lengthAdjust="spacingAndGlyphs" filter="url(#ts)" opacity="0.45">%SOLD</text>
<text x="273" y="460" font-size="19.5" fill="#ff0000" font-weight="bold" textLength="104" lengthAdjust="spacingAndGlyphs" >%SOLD</text>
<text x="272.7" y="472.7" font-size="9.6" fill="#000" font-weight="bold" textLength="104" lengthAdjust="spacingAndGlyphs" >Monthly Rate</text>
<rect x="485" y="539" width="58" height="35" fill="#595959"/>
<text x="488.5" y="565" font-size="22" fill="#ffff00" font-weight="bold" textLength="51" lengthAdjust="spacingAndGlyphs" >7.7%</text>
<rect x="866" y="501" width="66.2" height="34.7" fill="#595959"/>
<text x="869.8" y="526.7" font-size="21.8" fill="#ffff00" font-weight="bold" textLength="62.8" lengthAdjust="spacingAndGlyphs" >12.7%</text>
<g stroke="#ff0000" stroke-width="2" fill="none"><path d="M955,515 L928.5,515 M937,509.5 L928.5,515 L937,520.5"/></g>
<text x="715.3" y="701" font-size="12.6" fill="#000" textLength="253.5" lengthAdjust="spacingAndGlyphs" >All rights reserved and&#160; images copyrighted</text>
<text x="99.3" y="717.7" font-size="12" fill="#000" textLength="784" lengthAdjust="spacingAndGlyphs" >Data is from : FVREB, REBGV, CADREB Real Estate Board and they assume no responsibility for its accuracy. By: Vancouver Market Reports</text>
</svg></body></html>
